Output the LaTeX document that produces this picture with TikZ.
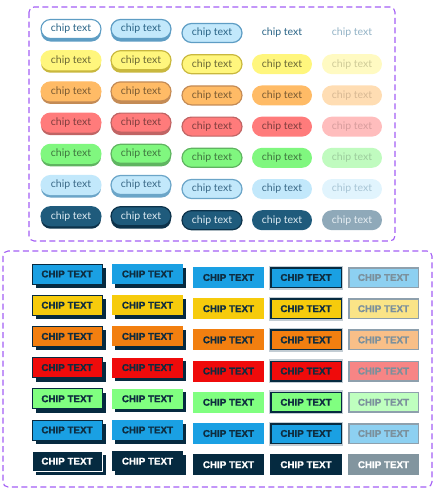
\documentclass[tikz,border=0pt]{standalone}
\usepackage{fontspec}
\setmainfont{Lato}
\newfontfamily\chipsans{Liberation Sans}[BoldFeatures={FakeBold=1.2}]
\usetikzlibrary{shapes.misc}
% top palette
\definecolor{tf1}{HTML}{C2E8FB}\definecolor{bd1}{HTML}{5E9DC4}\definecolor{tx1}{HTML}{2B6587}\definecolor{ff1}{HTML}{FFFFFF}\definecolor{ftx1}{HTML}{93B3C6}
\definecolor{cf1}{HTML}{FFFFFF}\definecolor{cd1}{HTML}{5E9DC4}\definecolor{cq1}{HTML}{FFFFFF}
\definecolor{tf2}{HTML}{FFF67D}\definecolor{bd2}{HTML}{C9B83E}\definecolor{tx2}{HTML}{6B6836}\definecolor{ff2}{HTML}{FFFAC2}\definecolor{ftx2}{HTML}{CFCB98}
\definecolor{tf3}{HTML}{FFBB66}\definecolor{bd3}{HTML}{C48B55}\definecolor{tx3}{HTML}{7A5B33}\definecolor{ff3}{HTML}{FFDDB3}\definecolor{ftx3}{HTML}{D8B994}
\definecolor{tf4}{HTML}{FF7B7B}\definecolor{bd4}{HTML}{C06464}\definecolor{tx4}{HTML}{7F3E3E}\definecolor{ff4}{HTML}{FFBDBD}\definecolor{ftx4}{HTML}{D79D9D}
\definecolor{tf5}{HTML}{80F77F}\definecolor{bd5}{HTML}{5FB460}\definecolor{tx5}{HTML}{3F763F}\definecolor{ff5}{HTML}{C0FBBF}\definecolor{ftx5}{HTML}{9DCC9D}
\definecolor{tf6}{HTML}{C2E8FB}\definecolor{bd6}{HTML}{6BA5C8}\definecolor{tx6}{HTML}{3B6A88}\definecolor{ff6}{HTML}{E1F4FD}\definecolor{ftx6}{HTML}{A8C5D5}
\definecolor{tf7}{HTML}{1F5B7C}\definecolor{bd7}{HTML}{0C324A}\definecolor{tx7}{HTML}{DCEAF2}\definecolor{ff7}{HTML}{8FA9B9}\definecolor{ftx7}{HTML}{E6EEF3}
\colorlet{cf2}{tf2}\colorlet{cf3}{tf3}\colorlet{cf4}{tf4}\colorlet{cf5}{tf5}\colorlet{cf6}{tf6}\colorlet{cf7}{tf7}
\colorlet{cd2}{tf2}\colorlet{cd3}{tf3}\colorlet{cd4}{tf4}\colorlet{cd5}{tf5}\colorlet{cd6}{tf6}\colorlet{cd7}{tf7}
\colorlet{cq2}{tf2}\colorlet{cq3}{tf3}\colorlet{cq4}{tf4}\colorlet{cq5}{tf5}\colorlet{cq6}{tf6}\colorlet{cq7}{tf7}
% bottom palette
\definecolor{navy}{HTML}{062A40}
\definecolor{btext}{HTML}{0E2C3F}
\definecolor{fadebd}{HTML}{8EA0AD}
\definecolor{fadetx}{HTML}{7B909C}
\definecolor{ring}{HTML}{C3CDD4}
\definecolor{purp}{HTML}{A35EF5}
\definecolor{bf1}{HTML}{1AA0E3}\definecolor{bg1}{HTML}{8DD0F1}
\definecolor{bf2}{HTML}{F6CB0C}\definecolor{bg2}{HTML}{FAE487}
\definecolor{bf3}{HTML}{F27F10}\definecolor{bg3}{HTML}{F8BF88}
\definecolor{bf4}{HTML}{EF0B0B}\definecolor{bg4}{HTML}{F78585}
\definecolor{bf5}{HTML}{80FF80}\definecolor{bg5}{HTML}{BFFFBF}
\definecolor{bf6}{HTML}{1AA0E3}\definecolor{bg6}{HTML}{8DD0F1}
\definecolor{bf7}{HTML}{052A40}\definecolor{bg7}{HTML}{82959F}
\colorlet{bt1}{btext}\colorlet{bt2}{btext}\colorlet{bt3}{btext}\colorlet{bt4}{btext}\colorlet{bt5}{btext}\colorlet{bt6}{btext}\colorlet{bt7}{white}
\colorlet{bx1}{fadetx}\colorlet{bx2}{fadetx}\colorlet{bx3}{fadetx}\colorlet{bx4}{fadetx}\colorlet{bx5}{fadetx}\colorlet{bx6}{fadetx}\colorlet{bx7}{white}
\colorlet{bb1}{navy}\colorlet{bb2}{navy}\colorlet{bb3}{navy}\colorlet{bb4}{navy}\colorlet{bb5}{navy}\colorlet{bb6}{navy}\colorlet{bb7}{white}
\colorlet{rg1}{ring}\colorlet{rg2}{ring}\colorlet{rg3}{ring}\colorlet{rg4}{ring}\colorlet{rg5}{ring}\colorlet{rg6}{ring}\colorlet{rg7}{white}
\colorlet{fb1}{fadebd}\colorlet{fb2}{fadebd}\colorlet{fb3}{fadebd}\colorlet{fb4}{fadebd}\colorlet{fb5}{fadebd}\colorlet{fb6}{fadebd}\colorlet{fb7}{bg7}
\tikzset{
  pill/.style={rounded rectangle, minimum width=60pt, minimum height=19pt, inner sep=0pt,
    font=\fontsize{10.5}{12}\selectfont},
  pillb/.style={pill, minimum height=20pt},
  bchip/.style={rectangle, minimum width=70pt, minimum height=20pt, inner sep=0pt,
    font=\chipsans\bfseries\fontsize{9.8}{11}\selectfont},
  bchipb/.style={bchip, minimum width=71pt, minimum height=21pt},
  frame/.style={draw=purp, line width=1.1pt, dash pattern=on 6pt off 3.5pt, rounded corners=5pt}
}
\begin{document}
\begin{tikzpicture}[x=1pt,y=-1pt]
\useasboundingbox (0,0) rectangle (437,491);
\draw[frame] (29,7) rectangle (395,241);
\draw[frame] (3,251) rectangle (432,487);
\foreach \r in {1,...,7}{
  \pgfmathsetmacro\yy{29+31.2*(\r-1)}
  % column 1: raised
  \node[pill, fill=bd\r] (ts1\r) at (71,\yy+3) {};
  \node[pill, fill=cf\r, draw=cd\r, line width=1.1pt, text=tx\r] (t1\r) at (71,\yy) {chip text};
  % column 2: hover
  \node[pill, fill=bd\r] (ts2\r) at (141,\yy+3) {};
  \node[pill, fill=tf\r, draw=bd\r, line width=1.2pt, text=tx\r] (t2\r) at (141,\yy) {chip text};
  % column 3: pressed
  \node[pillb, minimum height=19pt, fill=tf\r, draw=bd\r, line width=1.2pt, text=tx\r] (t3\r) at (212,\yy+4) {chip text};
  % column 4: flat
  \node[pillb, fill=cq\r, text=tx\r] (t4\r) at (282,\yy+4) {chip text};
  % column 5: disabled
  \node[pillb, fill=ff\r, text=ftx\r] (t5\r) at (352,\yy+4) {chip text};
}
\foreach \r in {1,...,7}{
  \pgfmathsetmacro\yy{274+31.2*(\r-1)}
  % column 1
  \node[bchip, fill=navy] (bs1\r) at (71,\yy+4) {};
  \node[bchip, fill=bf\r, draw=bb\r, line width=1pt, text=bt\r] (b1\r) at (67,\yy) {CHIP TEXT};
  % column 2
  \node[bchip, minimum width=71pt, fill=navy] (bs2\r) at (150.5,\yy+3.5) {};
  \node[bchip, minimum width=71pt, fill=bf\r, text=bt\r] (b2\r) at (147.5,\yy) {CHIP TEXT};
  % column 3
  \node[bchipb, fill=bf\r, text=bt\r] (b3\r) at (228.5,\yy+3.5) {CHIP TEXT};
  % column 4
  \node[bchipb, minimum width=74pt, minimum height=24pt, fill=rg\r] (br4\r) at (306,\yy+3.5) {};
  \node[bchipb, minimum width=70.5pt, minimum height=19.5pt, fill=bf\r, draw=navy, line width=1.5pt, text=bt\r] (b4\r) at (306,\yy+3.5) {CHIP TEXT};
  % column 5
  \node[bchipb, minimum width=69.5pt, minimum height=19.5pt, fill=bg\r, draw=fb\r, line width=1.5pt, text=bx\r] (b5\r) at (383.5,\yy+3.5) {CHIP TEXT};
}
\end{tikzpicture}
\end{document}
